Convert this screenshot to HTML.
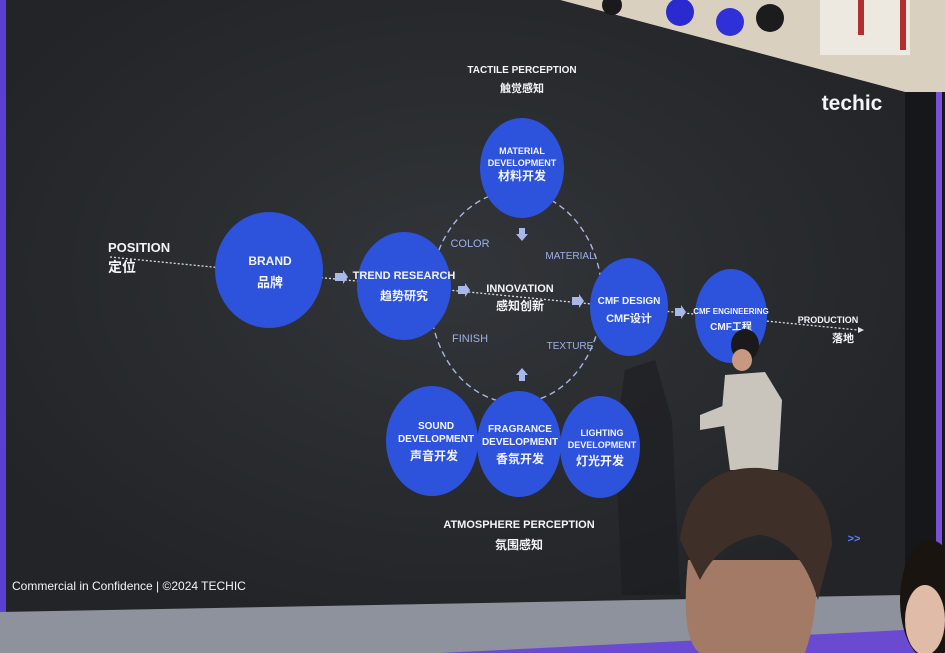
<!DOCTYPE html>
<html><head><meta charset="utf-8"><style>
html,body{margin:0;padding:0;width:945px;height:653px;overflow:hidden;background:#26282c}
svg{display:block}
text{font-family:"Liberation Sans","Noto Sans CJK SC",sans-serif;font-weight:bold;fill:#f2f4fa;text-anchor:middle}
.l{font-weight:normal;fill:#9fb0e6}
</style></head><body>
<svg width="945" height="653" viewBox="0 0 945 653">
<defs>
<radialGradient id="g" cx="50%" cy="45%" r="60%"><stop offset="0" stop-color="#323539"/><stop offset="1" stop-color="#222427"/></radialGradient>
</defs>
<rect width="945" height="653" fill="#222427"/>
<polygon points="560,0 945,0 945,95 905,92 560,0" fill="#d9d0c0"/>
<rect x="820" y="0" width="90" height="55" fill="#eee9e0"/>
<rect x="858" y="0" width="6" height="35" fill="#b03030"/><rect x="900" y="0" width="6" height="50" fill="#b03030"/>
<polygon points="6,0 560,0 905,92 905,595 6,612" fill="url(#g)"/>
<rect x="0" y="0" width="6" height="653" fill="#5a3fd0"/>
<rect x="905" y="92" width="40" height="520" fill="#16171a"/>
<rect x="936" y="92" width="6" height="520" fill="#7a50d8"/>
<polygon points="0,612 905,595 945,595 945,653 0,653" fill="#8e929c"/>
<polygon points="440,653 945,628 945,653" fill="#6a4ad0"/>
<circle cx="680" cy="12" r="14" fill="#2a2ad0"/><circle cx="730" cy="22" r="14" fill="#3030d8"/><circle cx="770" cy="18" r="14" fill="#1c1c1e"/><circle cx="612" cy="5" r="10" fill="#1a1a1c"/>
<!-- shadow -->
<polygon points="625,370 655,360 672,420 680,595 622,595 615,440" fill="#1b1c1f" opacity="0.55"/>
<line x1="110" y1="257" x2="858" y2="330" stroke="#d8dcea" stroke-width="1.3" stroke-dasharray="2,2"/>
<polygon points="858,327 864,330 858,333" fill="#e0e4ee"/>
<ellipse cx="516" cy="297" rx="86" ry="106" fill="none" stroke="#a8b6e0" stroke-width="1.4" stroke-dasharray="6,4"/>
<g fill="#2d52dc">
<ellipse cx="269" cy="270" rx="54" ry="58"/>
<ellipse cx="404" cy="286" rx="47" ry="54"/>
<ellipse cx="522" cy="168" rx="42" ry="50"/>
<ellipse cx="629" cy="307" rx="39" ry="49"/>
<ellipse cx="731" cy="316" rx="36" ry="47"/>
<ellipse cx="432" cy="441" rx="46" ry="55"/>
<ellipse cx="519" cy="444" rx="42" ry="53"/>
<ellipse cx="600" cy="447" rx="40" ry="51"/>
</g>
<g fill="#a8b8ea">
<polygon points="335,273 343,273 343,270 348,277 343,284 343,281 335,281"/>
<polygon points="458,286 465,286 465,283 470,290 465,297 465,294 458,294"/>
<polygon points="572,297 579,297 579,294 584,301 579,308 579,305 572,305"/>
<polygon points="675,308 681,308 681,305 686,312 681,319 681,316 675,316"/>
<polygon points="519,228 525,228 525,234 528,234 522,241 516,234 519,234"/>
<polygon points="519,381 525,381 525,375 528,375 522,368 516,375 519,375"/>
</g>
<text x="108" y="252" font-size="13" style="text-anchor:start">POSITION</text>
<text x="108" y="272" font-size="14" style="text-anchor:start">定位</text>
<text x="270" y="265" font-size="12">BRAND</text><text x="270" y="287" font-size="13">品牌</text>
<text x="404" y="279" font-size="11">TREND RESEARCH</text><text x="404" y="300" font-size="12">趋势研究</text>
<text x="522" y="154" font-size="9">MATERIAL</text><text x="522" y="166" font-size="9">DEVELOPMENT</text><text x="522" y="180" font-size="12">材料开发</text>
<text x="520" y="292" font-size="11">INNOVATION</text><text x="520" y="310" font-size="12">感知创新</text>
<text x="629" y="304" font-size="10">CMF DESIGN</text><text x="629" y="322" font-size="11">CMF设计</text>
<text x="731" y="314" font-size="8">CMF ENGINEERING</text><text x="731" y="330" font-size="10">CMF工程</text>
<text x="828" y="323" font-size="9">PRODUCTION</text><text x="843" y="342" font-size="11">落地</text>
<text class="l" x="470" y="247" font-size="11">COLOR</text>
<text class="l" x="570" y="259" font-size="10">MATERIAL</text>
<text class="l" x="470" y="342" font-size="11">FINISH</text>
<text class="l" x="570" y="349" font-size="10">TEXTURE</text>
<text x="522" y="73" font-size="10">TACTILE PERCEPTION</text><text x="522" y="92" font-size="11">触觉感知</text>
<text x="436" y="429" font-size="10">SOUND</text><text x="436" y="442" font-size="10">DEVELOPMENT</text><text x="434" y="460" font-size="12">声音开发</text>
<text x="520" y="432" font-size="10">FRAGRANCE</text><text x="520" y="445" font-size="10">DEVELOPMENT</text><text x="520" y="463" font-size="12">香氛开发</text>
<text x="602" y="436" font-size="9">LIGHTING</text><text x="602" y="448" font-size="9">DEVELOPMENT</text><text x="600" y="465" font-size="12">灯光开发</text>
<text x="519" y="528" font-size="11">ATMOSPHERE PERCEPTION</text><text x="519" y="549" font-size="12">氛围感知</text>
<text x="12" y="590" font-size="12" style="text-anchor:start;font-weight:normal">Commercial in Confidence | ©2024  TECHIC</text>
<text x="852" y="110" font-size="21">techic</text>
<text x="854" y="542" font-size="11" style="fill:#5a80ff">&gt;&gt;</text>
<!-- presenter -->
<ellipse cx="745" cy="345" rx="14" ry="16" fill="#1a1a1c"/>
<ellipse cx="742" cy="360" rx="10" ry="11" fill="#c89880"/>
<polygon points="725,375 765,372 782,400 778,470 730,470 722,410" fill="#c9c4bc"/>
<polygon points="700,415 725,405 730,425 700,430" fill="#c9c4bc"/>
<!-- audience heads -->
<path d="M688,560 Q680,640 700,653 L805,653 Q820,610 815,560 Z" fill="#a27a66"/>
<path d="M680,540 Q690,465 760,468 Q830,475 832,545 L818,600 Q800,540 760,535 Q720,540 700,580 Z" fill="#3e3028"/>
<ellipse cx="930" cy="600" rx="30" ry="60" fill="#1a1410"/>
<ellipse cx="925" cy="620" rx="20" ry="35" fill="#e0bca8"/>
</svg>
</body></html>
